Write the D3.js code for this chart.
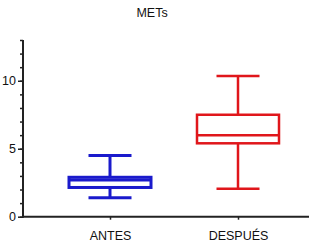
<!DOCTYPE html>
<html>
<head>
<meta charset="utf-8">
<script src="https://cdn.jsdelivr.net/npm/d3@7"></script>
<style>
  body { margin: 0; background: #fff; }
  text { font-family: "Liberation Sans", Arial, sans-serif; }
</style>
</head>
<body>
<div id="chart"></div>
<script>
// Datos del diagrama de caja
const categories = ["ANTES", "DESPUÉS"];
const whiskerLow = [1.4, 2.05];
const q1 = [2.15, 5.4];
const median = [2.7, 6.0];
const q3 = [2.9, 7.5];
const whiskerHigh = [4.5, 10.35];
const colors = ["#1a1acc", "#e0161b"];
const majorTicks = [0, 5, 10];
const minorTicks = d3.range(0, 14, 1);

const W = 321, H = 245;
const svg = d3.select("#chart").append("svg")
  .attr("width", W).attr("height", H);

// Escalas
const y = d3.scaleLinear().domain([0, 13]).range([216.7, 40]);
const x = d3.scalePoint().domain(categories).range([110, 238]);
const axisLeftX = 23, axisRightX = 309;

// Título
svg.append("text")
  .attr("x", 152).attr("y", 17)
  .attr("text-anchor", "middle")
  .attr("font-size", 12.5)
  .attr("fill", "#111")
  .text("METs");

// Eje Y con marcas menores
const yMinor = svg.append("g")
  .attr("transform", `translate(${axisLeftX},0)`)
  .call(d3.axisLeft(y).tickValues(minorTicks).tickSize(3).tickFormat(""));
yMinor.select(".domain").remove();
yMinor.selectAll("line").attr("stroke", "#222").attr("stroke-width", 1.5);

const yMajor = svg.append("g")
  .attr("transform", `translate(${axisLeftX},0)`)
  .call(d3.axisLeft(y).tickValues(majorTicks).tickSize(5).tickPadding(2));
yMajor.select(".domain").remove();
yMajor.selectAll("line").attr("stroke", "#222").attr("stroke-width", 1.5);
yMajor.selectAll("text")
  .attr("font-size", 12.5)
  .attr("fill", "#111")
  .style("font-family", "Liberation Sans, Arial, sans-serif");

svg.append("line")
  .attr("x1", axisLeftX).attr("x2", axisLeftX)
  .attr("y1", y(13)).attr("y2", y(0) + 1)
  .attr("stroke", "#222").attr("stroke-width", 2);

// Eje X
const xAxis = svg.append("g")
  .attr("transform", `translate(0,${y(0)})`)
  .call(d3.axisBottom(x).tickSize(3).tickPadding(11));
xAxis.select(".domain").remove();
xAxis.selectAll("line").attr("stroke", "#222").attr("stroke-width", 1.5);
xAxis.selectAll("text")
  .attr("font-size", 12.5)
  .attr("fill", "#111")
  .style("font-family", "Liberation Sans, Arial, sans-serif");

svg.append("line")
  .attr("x1", axisLeftX).attr("x2", axisRightX)
  .attr("y1", y(0)).attr("y2", y(0))
  .attr("stroke", "#222").attr("stroke-width", 2);

// Cajas
const boxW = 82, capW = 43;
const widths = [3, 2.5];

categories.forEach((c, i) => {
  const g = svg.append("g")
    .attr("stroke", colors[i])
    .attr("stroke-width", widths[i])
    .attr("fill", "none");
  const cx = x(c);
  // bigotes
  g.append("line").attr("x1", cx).attr("x2", cx)
    .attr("y1", y(whiskerHigh[i])).attr("y2", y(q3[i]));
  g.append("line").attr("x1", cx).attr("x2", cx)
    .attr("y1", y(q1[i])).attr("y2", y(whiskerLow[i]));
  g.append("line").attr("x1", cx - capW / 2).attr("x2", cx + capW / 2)
    .attr("y1", y(whiskerHigh[i])).attr("y2", y(whiskerHigh[i]));
  g.append("line").attr("x1", cx - capW / 2).attr("x2", cx + capW / 2)
    .attr("y1", y(whiskerLow[i])).attr("y2", y(whiskerLow[i]));
  // caja
  g.append("rect")
    .attr("x", cx - boxW / 2).attr("width", boxW)
    .attr("y", y(q3[i])).attr("height", y(q1[i]) - y(q3[i]))
    .attr("fill", "#fff");
  // mediana
  g.append("line").attr("x1", cx - boxW / 2).attr("x2", cx + boxW / 2)
    .attr("y1", y(median[i])).attr("y2", y(median[i]));
});
</script>
</body>
</html>
